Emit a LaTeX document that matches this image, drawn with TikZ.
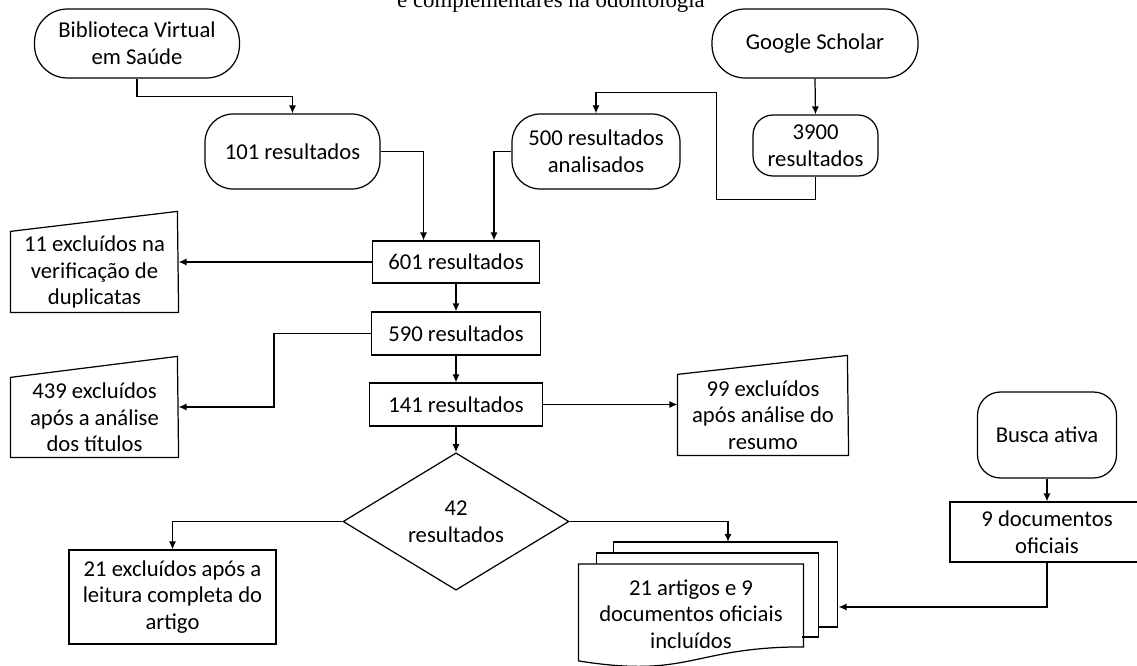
\documentclass[tikz,border=0pt]{standalone}
\usepackage{fontspec}
\setmainfont{Carlito}
\newfontfamily\titulofont{Liberation Serif}
\usetikzlibrary{shapes.geometric,arrows.meta}

\tikzset{
	terminal/.style={draw, rounded corners=0.56cm, align=center, inner sep=0pt},
	etapa/.style={draw, align=center, inner sep=0pt},
	entrada/.style={align=center, inner sep=0pt},
	decisao/.style={draw, diamond, align=center, inner sep=0pt},
	seta/.style={-{Latex[length=1.6mm,width=1.4mm]}}
}

\begin{document}
\begin{tikzpicture}[x=0.02cm, y=-0.02cm, line width=0.7pt, every node/.style={font=\fontsize{12.9}{15.2}\selectfont}]
				\useasboundingbox (0,0) rectangle (1137,666);

				\draw (551,7.5) node[anchor=base, font=\titulofont\fontsize{13}{15}\selectfont] (titulo) {e complementares na odontologia};

				\draw (137,43.5) node[terminal, rounded corners=0.66cm, minimum width=4.1cm, minimum height=1.38cm] (bvs) {Biblioteca Virtual\\em Saúde};
				\draw (815,43.5) node[terminal, rounded corners=0.66cm, minimum width=4.12cm, minimum height=1.38cm] (gs) {Google Scholar};
				\draw (292.5,151.5) node[terminal, minimum width=3.5cm, minimum height=1.5cm] (r101) {101 resultados};
				\draw (596,151.5) node[terminal, minimum width=3.36cm, minimum height=1.5cm] (r500) {500 resultados\\analisados};
				\draw (815.5,145.5) node[terminal, rounded corners=0.4cm, minimum width=2.5cm, minimum height=1.22cm] (r3900) {3900\\resultados};

				\draw (456,262) node[etapa, minimum width=3.34cm, minimum height=0.84cm] (r601) {601 resultados};
				\draw (456,333.5) node[etapa, minimum width=3.38cm, minimum height=0.86cm] (r590) {590 resultados};
				\draw (456,404.5) node[etapa, minimum width=3.46cm, minimum height=0.86cm] (r141) {141 resultados};
				\draw (456,521.5) node[decisao, minimum width=4.52cm, minimum height=2.5cm] (d42) {42\\resultados};

				\draw (94.5,272) node[entrada, minimum width=3.34cm, minimum height=1.6cm] (ex1) {11 excluídos na\\verificação de\\duplicatas};
				\draw (ex1.south west) -- (ex1.north west) -- ++(167,-20) -- (ex1.south east) -- cycle;
				\draw (94.5,417.5) node[entrada, minimum width=3.34cm, minimum height=1.58cm] (ex2) {439 excluídos\\após a análise\\dos títulos};
				\draw (ex2.south west) -- (ex2.north west) -- ++(167,-21) -- (ex2.south east) -- cycle;
				\draw (763,415) node[entrada, minimum width=3.4cm, minimum height=1.6cm] (ex3) {99 excluídos\\após análise do\\resumo};
				\draw (ex3.south west) -- (ex3.north west) -- ++(170,-19) -- (ex3.south east) -- cycle;
				\draw (172.5,597) node[etapa, minimum width=4.14cm, minimum height=1.88cm] (ex4) {21 excluídos após a\\leitura completa do\\artigo};

				\draw (1047,435) node[terminal, rounded corners=0.46cm, minimum width=2.78cm, minimum height=1.72cm] (busca) {Busca ativa};
				\draw (1047,532) node[etapa, minimum width=3.88cm, minimum height=1.2cm] (r9) {9 documentos\\oficiais};

				\draw (691,614) node[entrada, minimum width=4.48cm, minimum height=1.98cm] (docs) {21 artigos e 9\\documentos oficiais\\incluídos};
				\draw (docs.north west) -- (docs.north east) -- ++(0,83) .. controls +(-112,0) and +(112,18) .. ([yshift=-1.94cm]docs.north west) -- cycle;
				\draw ([xshift=0.36cm]docs.north west) -- ++(0,-11) -- ++(222,0) -- ++(0,84) -- ++(-16,0);
				\draw ([xshift=0.7cm,yshift=0.22cm]docs.north west) -- ++(0,-11) -- ++(224,0) -- ++(0,85) -- ++(-19,0);

				\draw[seta] (bvs.south) -- ++(0,18) -| (r101.north);
				\draw[seta] (r101.east) -| ([xshift=-0.65cm]r601.north);
				\draw[seta] (r500.west) -| ([xshift=0.76cm]r601.north);
				\draw[seta] (gs.south) -- (r3900.north);
				\draw[seta] (r3900.south) -- ++(0,23) -- ++(-99,0) -- ++(0,-107) -| (r500.north);

				\draw[seta] (r601.south) -- (r590.north);
				\draw[seta] (r590.south) -- (r141.north);
				\draw[seta] (r141.south) -- (d42.north);
				\draw[seta] (r601.west) -- (r601.west -| ex1.east);
				\draw[seta] (r590.west) -- ++(-97,0) |- ([yshift=0.21cm]ex2.east);
				\draw[seta] (r141.east) -- (r141.east -| ex3.west);
				\draw[seta] (d42.west) -| (ex4.north);
				\draw[seta] (d42.east) -| ([xshift=0.74cm,yshift=0.44cm]docs.north);

				\draw[seta] (busca.south) -- (r9.north);
				\draw[seta] (r9.south) |- ([xshift=0.7cm,yshift=0.14cm]docs.east);
\end{tikzpicture}
\end{document}
